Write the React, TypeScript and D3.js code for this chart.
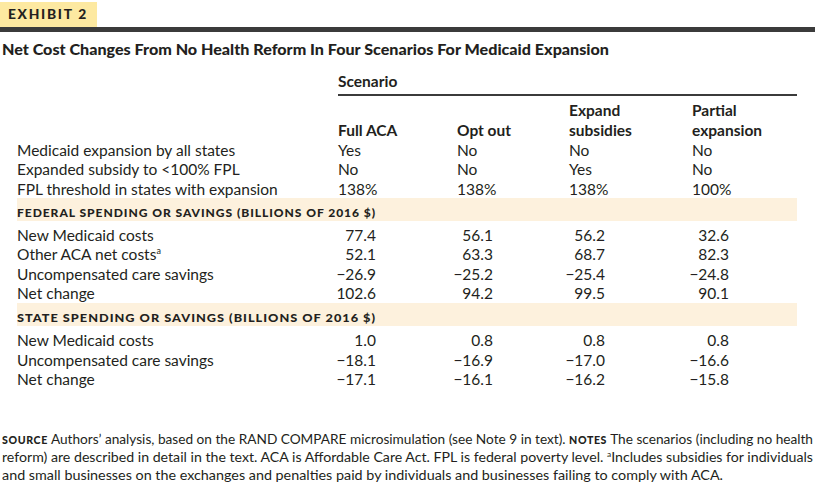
import React from "react";
import * as d3 from "d3";

const scenarios = ["Full ACA", "Opt out", "Expand\nsubsidies", "Partial\nexpansion"];
const policyLabels = ["Medicaid expansion by all states", "Expanded subsidy to <100% FPL", "FPL threshold in states with expansion"];
const expansionAll = ["Yes", "No", "No", "No"];
const expandedSubsidy = ["No", "No", "Yes", "No"];
const fplThreshold = ["138%", "138%", "138%", "100%"];

const federalLabels = ["New Medicaid costs", "Other ACA net costs", "Uncompensated care savings", "Net change"];
const fedNewMedicaid = [77.4, 56.1, 56.2, 32.6];
const fedOtherAca = [52.1, 63.3, 68.7, 82.3];
const fedUncompensated = [-26.9, -25.2, -25.4, -24.8];
const fedNetChange = [102.6, 94.2, 99.5, 90.1];

const stateLabels = ["New Medicaid costs", "Uncompensated care savings", "Net change"];
const stateNewMedicaid = [1.0, 0.8, 0.8, 0.8];
const stateUncompensated = [-18.1, -16.9, -17.0, -16.6];
const stateNetChange = [-17.1, -16.1, -16.2, -15.8];

const FONT = "Lato, 'Open Sans', sans-serif";
const INK = "#231f20";
const BODY = 15.5;

export default function App() {
  const idx = d3.range(scenarios.length);
  const colLeft = d3.scaleOrdinal<number, number>().domain(idx).range([338, 457, 569, 692]);
  const colRight = d3.scaleOrdinal<number, number>().domain(idx).range([376, 493, 605, 729]);
  const fmt = d3.format(".1f");

  const policyRows = [expansionAll, expandedSubsidy, fplThreshold];
  const fedRows = [fedNewMedicaid, fedOtherAca, fedUncompensated, fedNetChange];
  const stateRows = [stateNewMedicaid, stateUncompensated, stateNetChange];

  const policyY = d3.scaleLinear().domain([0, 1]).range([155.5, 175]);
  const fedY = d3.scaleLinear().domain([0, 1]).range([240.5, 260]);
  const stateY = d3.scaleLinear().domain([0, 1]).range([346, 365.5]);

  const bandHead = (y: number, text: string) => (
    <g>
      <rect x={17} y={y} width={780} height={23} fill="#fdf1dd" />
      <text x={17} y={y + 18.5} fontFamily={FONT} fontWeight={900} fontSize={11.5} fill={INK}
        letterSpacing={0.9} textLength={359} lengthAdjust="spacingAndGlyphs">
        {text}
      </text>
    </g>
  );

  return (
    <svg width={815} height={484} style={{ position: "absolute", left: 0, top: 0, background: "#fff" }}>
      {/* Exhibit label */}
      <rect x={0} y={2} width={97} height={25} fill="#fde9a1" />
      <text x={8} y={19} fontFamily={FONT} fontWeight={900} fontSize={13} letterSpacing={1.6} fill={INK}
        textLength={80} lengthAdjust="spacingAndGlyphs">EXHIBIT 2</text>
      <rect x={0} y={27} width={815} height={5} fill="#3b3b3b" />

      {/* Title */}
      <text x={2} y={55} fontFamily={FONT} fontWeight={900} fontSize={15} fill={INK} textLength={607} lengthAdjust="spacingAndGlyphs">
        Net Cost Changes From No Health Reform In Four Scenarios For Medicaid Expansion
      </text>

      {/* Scenario header */}
      <text x={338} y={87} fontFamily={FONT} fontWeight={700} fontSize={15.5} fill={INK}>Scenario</text>
      <rect x={338} y={94} width={459} height={2} fill="#3b3b3b" />
      {scenarios.map((s, i) => {
        const lines = s.split("\n");
        return (
          <text key={s} x={colLeft(i)} fontFamily={FONT} fontWeight={700} fontSize={15.5} fill={INK}>
            {lines.map((l, j) => (
              <tspan key={j} x={colLeft(i)} y={135.5 - (lines.length - 1 - j) * 20}>{l}</tspan>
            ))}
          </text>
        );
      })}

      {/* Policy rows */}
      {policyLabels.map((lab, r) => (
        <g key={lab}>
          <text x={17} y={policyY(r)} fontFamily={FONT} fontSize={BODY} fill={INK}>{lab}</text>
          {policyRows[r].map((v, i) => (
            <text key={i} x={colLeft(i)} y={policyY(r)} fontFamily={FONT} fontSize={BODY} fill={INK}>{v}</text>
          ))}
        </g>
      ))}

      {bandHead(198, "FEDERAL SPENDING OR SAVINGS (BILLIONS OF 2016 $)")}
      {federalLabels.map((lab, r) => (
        <g key={lab}>
          <text x={17} y={fedY(r)} fontFamily={FONT} fontSize={BODY} fill={INK}>
            {lab}
            {r === 1 && <tspan fontSize={9} dy={-6}>a</tspan>}
          </text>
          {fedRows[r].map((v, i) => (
            <text key={i} x={colRight(i)} y={fedY(r)} textAnchor="end" fontFamily={FONT} fontSize={BODY} fill={INK}>{fmt(v)}</text>
          ))}
        </g>
      ))}

      {bandHead(303, "STATE SPENDING OR SAVINGS (BILLIONS OF 2016 $)")}
      {stateLabels.map((lab, r) => (
        <g key={lab}>
          <text x={17} y={stateY(r)} fontFamily={FONT} fontSize={BODY} fill={INK}>{lab}</text>
          {stateRows[r].map((v, i) => (
            <text key={i} x={colRight(i)} y={stateY(r)} textAnchor="end" fontFamily={FONT} fontSize={BODY} fill={INK}>{fmt(v)}</text>
          ))}
        </g>
      ))}

      {/* Footer */}
      <text x={2} y={444} fontFamily={FONT} fontSize={13.5} fill={INK} textLength={811} lengthAdjust="spacingAndGlyphs">
        <tspan fontWeight={900} fontSize={10.5} letterSpacing={0.6}>SOURCE</tspan>
        {" Authors’ analysis, based on the RAND COMPARE microsimulation (see Note 9 in text). "}
        <tspan fontWeight={900} fontSize={10.5} letterSpacing={0.6}>NOTES</tspan>
        {" The scenarios (including no health"}
      </text>
      <text x={2} y={462} fontFamily={FONT} fontSize={13.5} fill={INK} textLength={811} lengthAdjust="spacingAndGlyphs">
        {"reform) are described in detail in the text. ACA is Affordable Care Act. FPL is federal poverty level. "}
        <tspan fontSize={8} dy={-5}>a</tspan>
        <tspan dy={5}>Includes subsidies for individuals</tspan>
      </text>
      <text x={2} y={480} fontFamily={FONT} fontSize={13.5} fill={INK} textLength={721} lengthAdjust="spacingAndGlyphs">
        and small businesses on the exchanges and penalties paid by individuals and businesses failing to comply with ACA.
      </text>
    </svg>
  );
}
